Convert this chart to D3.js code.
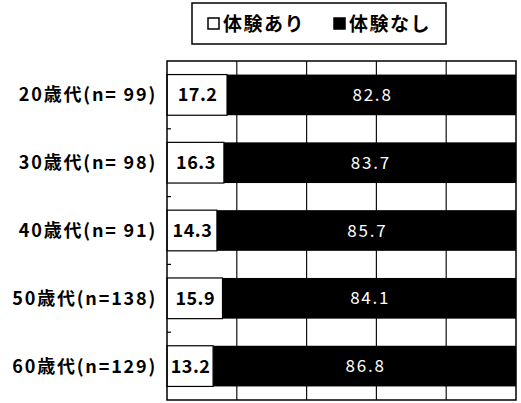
<!DOCTYPE html>
<html><head><meta charset="utf-8">
<script src="https://cdn.jsdelivr.net/npm/d3@7"></script>
<style>body{margin:0;background:#fff}svg{display:block}</style>
</head><body>
<script>
const categories = ["20歳代(n= 99)", "30歳代(n= 98)", "40歳代(n= 91)", "50歳代(n=138)", "60歳代(n=129)"];
const experienced = [17.2, 16.3, 14.3, 15.9, 13.2];
const notExperienced = [82.8, 83.7, 85.7, 84.1, 86.8];
const seriesNames = ["体験あり", "体験なし"];
const xTicks = [0, 20, 40, 60, 80, 100];

const W = 521, H = 403;
const plot = {left: 167, right: 516, top: 61, bottom: 400};
const font = "'Noto Sans CJK JP', 'Noto Sans', sans-serif";

const svg = d3.select("body").append("svg").attr("width", W).attr("height", H);

const x = d3.scaleLinear().domain([0, 100]).range([plot.left, plot.right]);
const y = d3.scaleBand().domain(categories).range([plot.top, plot.bottom]).paddingInner(0.4).paddingOuter(0.2);

// vertical gridlines
svg.append("g").selectAll("line").data(xTicks.slice(1, -1)).join("line")
  .attr("x1", d => x(d)).attr("x2", d => x(d))
  .attr("y1", plot.top).attr("y2", plot.bottom)
  .attr("stroke", "#111").attr("stroke-width", 1.2);

const rows = categories.map((c, i) => ({c, a: experienced[i], b: notExperienced[i]}));

// not-experienced segment (black)
svg.append("g").selectAll("rect").data(rows).join("rect")
  .attr("x", d => x(d.a)).attr("width", d => x(d.a + d.b) - x(d.a))
  .attr("y", d => y(d.c)).attr("height", y.bandwidth())
  .attr("fill", "#000");

// experienced segment (white, outlined)
svg.append("g").selectAll("rect").data(rows).join("rect")
  .attr("x", d => x(0)).attr("width", d => x(d.a) - x(0))
  .attr("y", d => y(d.c)).attr("height", y.bandwidth())
  .attr("fill", "#fff").attr("stroke", "#000").attr("stroke-width", 1.2);

// value labels, centred in each segment
svg.append("g").selectAll("text").data(rows).join("text")
  .attr("x", d => (x(0) + x(d.a)) / 2 + 0.5).attr("y", d => y(d.c) + y.bandwidth() / 2)
  .attr("dy", "0.36em").attr("text-anchor", "middle")
  .attr("font-family", font).attr("font-weight", "bold")
  .attr("font-size", 18).attr("letter-spacing", 0.5).attr("fill", "#000").text(d => d.a.toFixed(1));

svg.append("g").selectAll("text").data(rows).join("text")
  .attr("x", d => (x(d.a) + x(d.a + d.b)) / 2 + 1).attr("y", d => y(d.c) + y.bandwidth() / 2)
  .attr("dy", "0.36em").attr("text-anchor", "middle").attr("font-family", font)
  .attr("font-size", 17).attr("letter-spacing", 1.8).attr("fill", "#fff").text(d => d.b.toFixed(1));

// small ticks on the category axis between bands
const bounds = d3.range(1, categories.length).map(i => plot.top + i * (plot.bottom - plot.top) / categories.length);
svg.append("g").selectAll("line").data(bounds).join("line")
  .attr("x1", plot.left).attr("x2", plot.left + 4)
  .attr("y1", d => d).attr("y2", d => d)
  .attr("stroke", "#000").attr("stroke-width", 1.2);

// plot frame
svg.append("rect").attr("x", plot.left).attr("y", plot.top)
  .attr("width", plot.right - plot.left).attr("height", plot.bottom - plot.top)
  .attr("fill", "none").attr("stroke", "#000").attr("stroke-width", 1.5);

// category labels
svg.append("g").selectAll("text").data(categories).join("text")
  .attr("x", 157).attr("y", d => y(d) + y.bandwidth() / 2)
  .attr("dy", "0.36em").attr("text-anchor", "end")
  .attr("font-family", font).attr("font-weight", "bold").attr("font-size", 18)
  .attr("letter-spacing", 1.8)
  .attr("fill", "#000").text(d => d);

// legend
const lg = svg.append("g");
lg.append("rect").attr("x", 192).attr("y", 3).attr("width", 254).attr("height", 41)
  .attr("fill", "#fff").attr("stroke", "#000").attr("stroke-width", 1.5);
const legendItems = [{name: seriesNames[0], fill: "#fff", x: 207}, {name: seriesNames[1], fill: "#000", x: 333}];
const li = lg.selectAll("g").data(legendItems).join("g").attr("transform", d => `translate(${d.x},0)`);
li.append("rect").attr("x", 1).attr("y", 18).attr("width", 11).attr("height", 11)
  .attr("fill", d => d.fill).attr("stroke", "#000").attr("stroke-width", 1.5);
li.append("text").attr("x", 16).attr("y", 24).attr("dy", "0.36em")
  .attr("font-family", font).attr("font-weight", "bold").attr("font-size", 19)
  .attr("letter-spacing", 1.5)
  .attr("fill", "#000").text(d => d.name);
</script>
</body></html>
